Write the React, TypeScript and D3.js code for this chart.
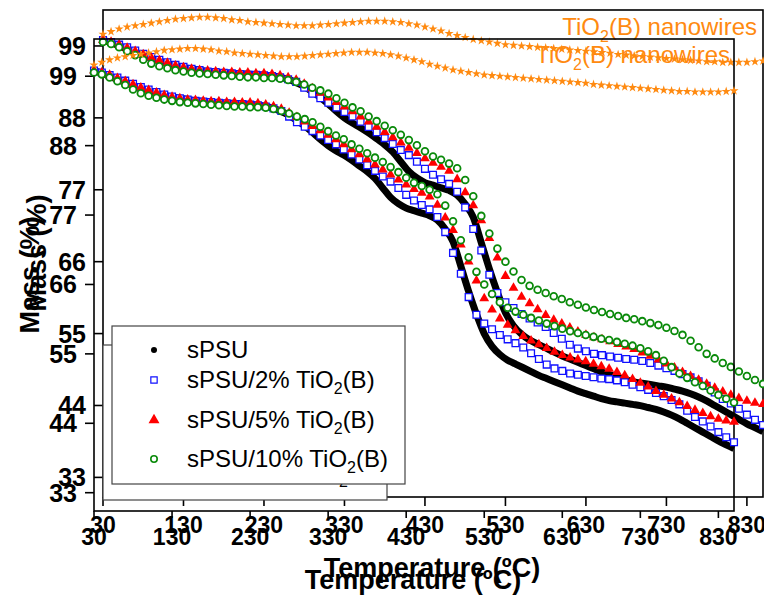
import React from "react";
import * as d3 from "d3";

// Sample temperatures (°C)
const temps: number[] = d3.range(30, 851, 10);

// Mass (%) values, one per temperature
const sPSU = [
  99.9, 99.5, 99.0, 98.5, 98.0, 97.5, 97.1, 96.7, 96.3, 96.0,
  95.7, 95.5, 95.3, 95.1, 95.0, 94.9, 94.8, 94.7, 94.7, 94.6,
  94.5, 94.4, 94.2, 93.9, 93.4, 92.8, 92.0, 91.1, 90.1, 89.0,
  88.0, 87.2, 86.5, 85.7, 84.8, 83.9, 82.8, 81.3, 79.8, 78.8,
  78.1, 77.7, 77.3, 76.9, 76.2, 74.8, 72.8, 68.9, 64.9, 61.3,
  58.2, 56.2, 54.9, 54.0, 53.4, 52.8, 52.2, 51.6, 51.1, 50.6,
  50.1, 49.6, 49.1, 48.7, 48.3, 47.9, 47.6, 47.4, 47.2, 47.0,
  46.8, 46.5, 46.2, 45.8, 45.3, 44.7, 44.0, 43.3, 42.6, 41.9,
  41.2, 40.6, 40.0,
];
const sPSU2 = [
  99.9, 99.6, 99.2, 98.8, 98.3, 97.8, 97.3, 96.9, 96.5, 96.1,
  95.8, 95.5, 95.3, 95.1, 95.0, 94.9, 94.8, 94.7, 94.6, 94.6,
  94.5, 94.4, 94.2, 93.9, 93.5, 92.6, 91.7, 91.0, 90.3, 89.6,
  88.9, 88.2, 87.4, 86.6, 85.8, 84.9, 84.0, 83.1, 82.3, 81.3,
  80.2, 79.3, 78.6, 77.9, 76.7, 74.3, 71.0, 67.7, 64.0, 61.2,
  59.8, 58.9, 58.0, 57.3, 56.7, 56.0, 55.1, 54.2, 53.3, 52.7,
  52.3, 51.9, 51.7, 51.5, 51.3, 51.1, 51.0, 50.8, 50.5, 50.1,
  49.7, 49.3, 48.8, 48.3, 47.7, 47.0, 46.0, 45.0, 44.3, 43.5,
  42.6, 41.8, 41.0,
];
const sPSU5 = [
  99.9, 99.6, 99.2, 98.7, 98.2, 97.7, 97.2, 96.8, 96.4, 96.0,
  95.7, 95.5, 95.3, 95.2, 95.1, 95.0, 95.0, 94.9, 94.9, 94.8,
  94.8, 94.7, 94.5, 94.2, 93.8, 93.2, 92.5, 91.8, 91.1, 90.4,
  89.7, 89.0, 88.2, 87.4, 86.6, 85.8, 85.0, 84.2, 83.4, 82.6,
  81.8, 81.1, 80.5, 79.9, 78.6, 76.6, 74.6, 72.3, 69.6, 66.6,
  63.8, 62.0, 60.6, 59.6, 58.7, 57.8, 57.1, 56.5, 55.9, 55.3,
  54.8, 54.4, 54.1, 53.8, 53.4, 53.0, 52.6, 52.1, 51.6, 51.0,
  50.4, 49.8, 49.1, 48.5, 47.9, 47.3, 46.7, 46.1, 45.6, 45.1,
  44.7, 44.4, 44.2,
];
const sPSU10 = [
  99.6, 99.3, 98.8, 98.2, 97.6, 96.9, 96.3, 95.9, 95.6, 95.3,
  95.1, 94.9, 94.8, 94.7, 94.6, 94.5, 94.4, 94.3, 94.2, 94.2,
  94.1, 94.1, 94.0, 93.8, 93.5, 93.1, 92.6, 92.2, 91.7, 91.0,
  90.3, 89.6, 89.0, 88.2, 87.5, 86.8, 86.1, 85.4, 84.6, 83.8,
  82.9, 82.1, 81.6, 81.0, 80.3, 78.5, 76.0, 73.0, 70.3, 68.0,
  66.0, 64.5, 63.2, 62.3, 61.7, 61.2, 60.7, 60.3, 59.8, 59.4,
  59.0, 58.6, 58.3, 58.0, 57.7, 57.4, 57.2, 56.9, 56.6, 56.3,
  55.9, 55.4, 54.8, 53.9, 52.9, 51.9, 51.2, 50.5, 49.9, 49.2,
  48.5, 47.9, 47.3,
];
const nanowires = [
  100.8, 101.2, 101.6, 101.9, 102.1, 102.3, 102.5, 102.7, 102.9, 103.1,
  103.2, 103.3, 103.4, 103.4, 103.3, 103.2, 103.0, 102.9, 102.7, 102.6,
  102.5, 102.4, 102.3, 102.2, 102.1, 102.1, 102.1, 102.2, 102.3, 102.4,
  102.5, 102.6, 102.7, 102.8, 102.8, 102.8, 102.7, 102.6, 102.4, 102.2,
  101.9, 101.6, 101.3, 100.9, 100.6, 100.3, 100.0, 99.8, 99.6, 99.4,
  99.2, 99.1, 99.0, 98.9, 98.8, 98.7, 98.6, 98.5, 98.4, 98.3,
  98.2, 98.1, 98.0, 97.9, 97.7, 97.6, 97.5, 97.4, 97.3, 97.2,
  97.1, 97.0, 96.9, 96.8, 96.7, 96.6, 96.6, 96.5, 96.5, 96.5,
  96.5, 96.6, 96.7,
];

const xTicks = [30, 130, 230, 330, 430, 530, 630, 730, 830];
const yTicks = [33, 44, 55, 66, 77, 88, 99];
const legendLabels = ["sPSU", "sPSU/2% TiO", "sPSU/5% TiO", "sPSU/10% TiO"];

const FONT = "Arial, 'Liberation Sans', Helvetica, sans-serif";
const ORANGE = "#ff8a10";

type Cfg = {
  left: number; top: number; right: number; bottom: number;
  yDom: [number, number];
  yLabelX: number; xLabelBase: number; xTickLen: number;
  xTitleX: number; xTitleY: number; yTitleX: number; yTitleY: number;
  nanoX: number; nanoY: number;
  lg: { x: number; y: number; w: number; h: number; mx: number; tx: number; rows: number[]; subDy: number };
};

const copyA: Cfg = {
  left: 103, top: 10, right: 763, bottom: 497, yDom: [30, 104.5],
  yLabelX: 86, xLabelBase: 533, xTickLen: 9,
  xTitleX: 432, xTitleY: 577, yTitleX: 46, yTitleY: 253,
  nanoX: 757, nanoY: 35,
  lg: { x: 103, y: 345, w: 284, h: 155, mx: 146, tx: 179, rows: [370, 400, 440, 479], subDy: 8 },
};
const copyB: Cfg = {
  left: 94, top: 39, right: 734, bottom: 511, yDom: [30.1, 104.9],
  yLabelX: 77, xLabelBase: 545, xTickLen: 7,
  xTitleX: 413, xTitleY: 589, yTitleX: 39, yTitleY: 275,
  nanoX: 730, nanoY: 63,
  lg: { x: 112, y: 326, w: 293, h: 158, mx: 154, tx: 187, rows: [358, 388, 428, 467], subDy: 6 },
};

const sq = d3.symbol().type(d3.symbolSquare).size(46)() as string;
const tri = d3.symbol().type(d3.symbolTriangle).size(42)() as string;
const star = d3.symbol().type(d3.symbolStar).size(26)() as string;
const sqL = d3.symbol().type(d3.symbolSquare).size(40)() as string;
const triL = d3.symbol().type(d3.symbolTriangle).size(52)() as string;

function Copy({ c }: { c: Cfg }) {
  const x = d3.scaleLinear().domain([30, 850]).range([c.left, c.right]);
  const y = d3.scaleLinear().domain(c.yDom).range([c.bottom, c.top]);
  const line = d3.line<number>().x((_, i) => x(temps[i])).y((d) => y(d)).curve(d3.curveMonotoneX);
  const sub = (
    <>
      <tspan dy={c.lg.subDy} fontSize={16}>2</tspan>
      <tspan dy={-c.lg.subDy}>(B)</tspan>
    </>
  );
  return (
    <g>
      <rect x={c.left} y={c.top} width={c.right - c.left} height={c.bottom - c.top}
        fill="none" stroke="#000" strokeWidth={1.6} />
      {yTicks.map((t) => (
        <g key={"y" + t}>
          <line x1={c.left - 9} x2={c.left} y1={y(t)} y2={y(t)} stroke="#000" strokeWidth={1.6} />
          <text x={c.yLabelX} y={y(t) + 9} textAnchor="end" fontFamily={FONT} fontWeight="bold" fontSize={25}>{t}</text>
        </g>
      ))}
      {xTicks.map((t) => (
        <g key={"x" + t}>
          <line x1={x(t)} x2={x(t)} y1={c.bottom} y2={c.bottom + c.xTickLen} stroke="#000" strokeWidth={1.6} />
          <text x={x(t)} y={c.xLabelBase} textAnchor="middle" fontFamily={FONT} fontWeight="bold" fontSize={23}>{t}</text>
        </g>
      ))}
      <text x={c.xTitleX} y={c.xTitleY} textAnchor="middle" fontFamily={FONT} fontWeight="bold" fontSize={27}>Temperature (ºC)</text>
      <text transform={`translate(${c.yTitleX},${c.yTitleY}) rotate(-90)`} textAnchor="middle" fontFamily={FONT} fontWeight="bold" fontSize={27}>Mass (%)</text>

      <path d={line(sPSU) || ""} fill="none" stroke="#000" strokeWidth={7} strokeLinejoin="round" />
      {sPSU2.map((v, i) => (
        <path key={"b" + i} d={sq} transform={`translate(${x(temps[i])},${y(v)})`} fill="#fff" stroke="#1010ff" strokeWidth={1.3} />
      ))}
      {sPSU5.map((v, i) => (
        <path key={"r" + i} d={tri} transform={`translate(${x(temps[i])},${y(v)})`} fill="#ff0000" />
      ))}
      {sPSU10.map((v, i) => (
        <circle key={"g" + i} cx={x(temps[i])} cy={y(v)} r={3.4} fill="#fff" stroke="#0a8a0a" strokeWidth={1.8} />
      ))}
      {nanowires.map((v, i) => (
        <path key={"o" + i} d={star} transform={`translate(${x(temps[i])},${y(v)})`} fill={ORANGE} />
      ))}
      <text x={c.nanoX} y={c.nanoY} textAnchor="end" fontFamily={FONT} fontSize={24} fill={ORANGE}>
        TiO<tspan dy={7} fontSize={16}>2</tspan><tspan dy={-7}>(B) nanowires</tspan>
      </text>

      <g>
        <rect x={c.lg.x} y={c.lg.y} width={c.lg.w} height={c.lg.h} fill="#fff" stroke="#444" strokeWidth={1.2} />
        {legendLabels.map((lab, i) => {
          const by = c.lg.rows[i];
          const my = by - 8;
          const mx = c.lg.mx;
          return (
            <g key={"l" + i}>
              {i === 0 && <circle cx={mx} cy={my} r={3} fill="#000" />}
              {i === 1 && <path d={sqL} transform={`translate(${mx},${my})`} fill="#fff" stroke="#1010ff" strokeWidth={1.2} />}
              {i === 2 && <path d={triL} transform={`translate(${mx},${my})`} fill="#ff0000" />}
              {i === 3 && <circle cx={mx} cy={my} r={3.2} fill="#fff" stroke="#0a8a0a" strokeWidth={1.6} />}
              <text x={c.lg.tx} y={by} fontFamily={FONT} fontSize={24} fill="#000">
                {lab}{i > 0 ? sub : null}
              </text>
            </g>
          );
        })}
      </g>
    </g>
  );
}

export default function App() {
  return (
    <svg width={764} height={597} viewBox="0 0 764 597"
      style={{ position: "absolute", left: 0, top: 0, background: "#fff" }}>
      <rect x={0} y={0} width={764} height={597} fill="#fff" />
      <Copy c={copyA} />
      <Copy c={copyB} />
    </svg>
  );
}
